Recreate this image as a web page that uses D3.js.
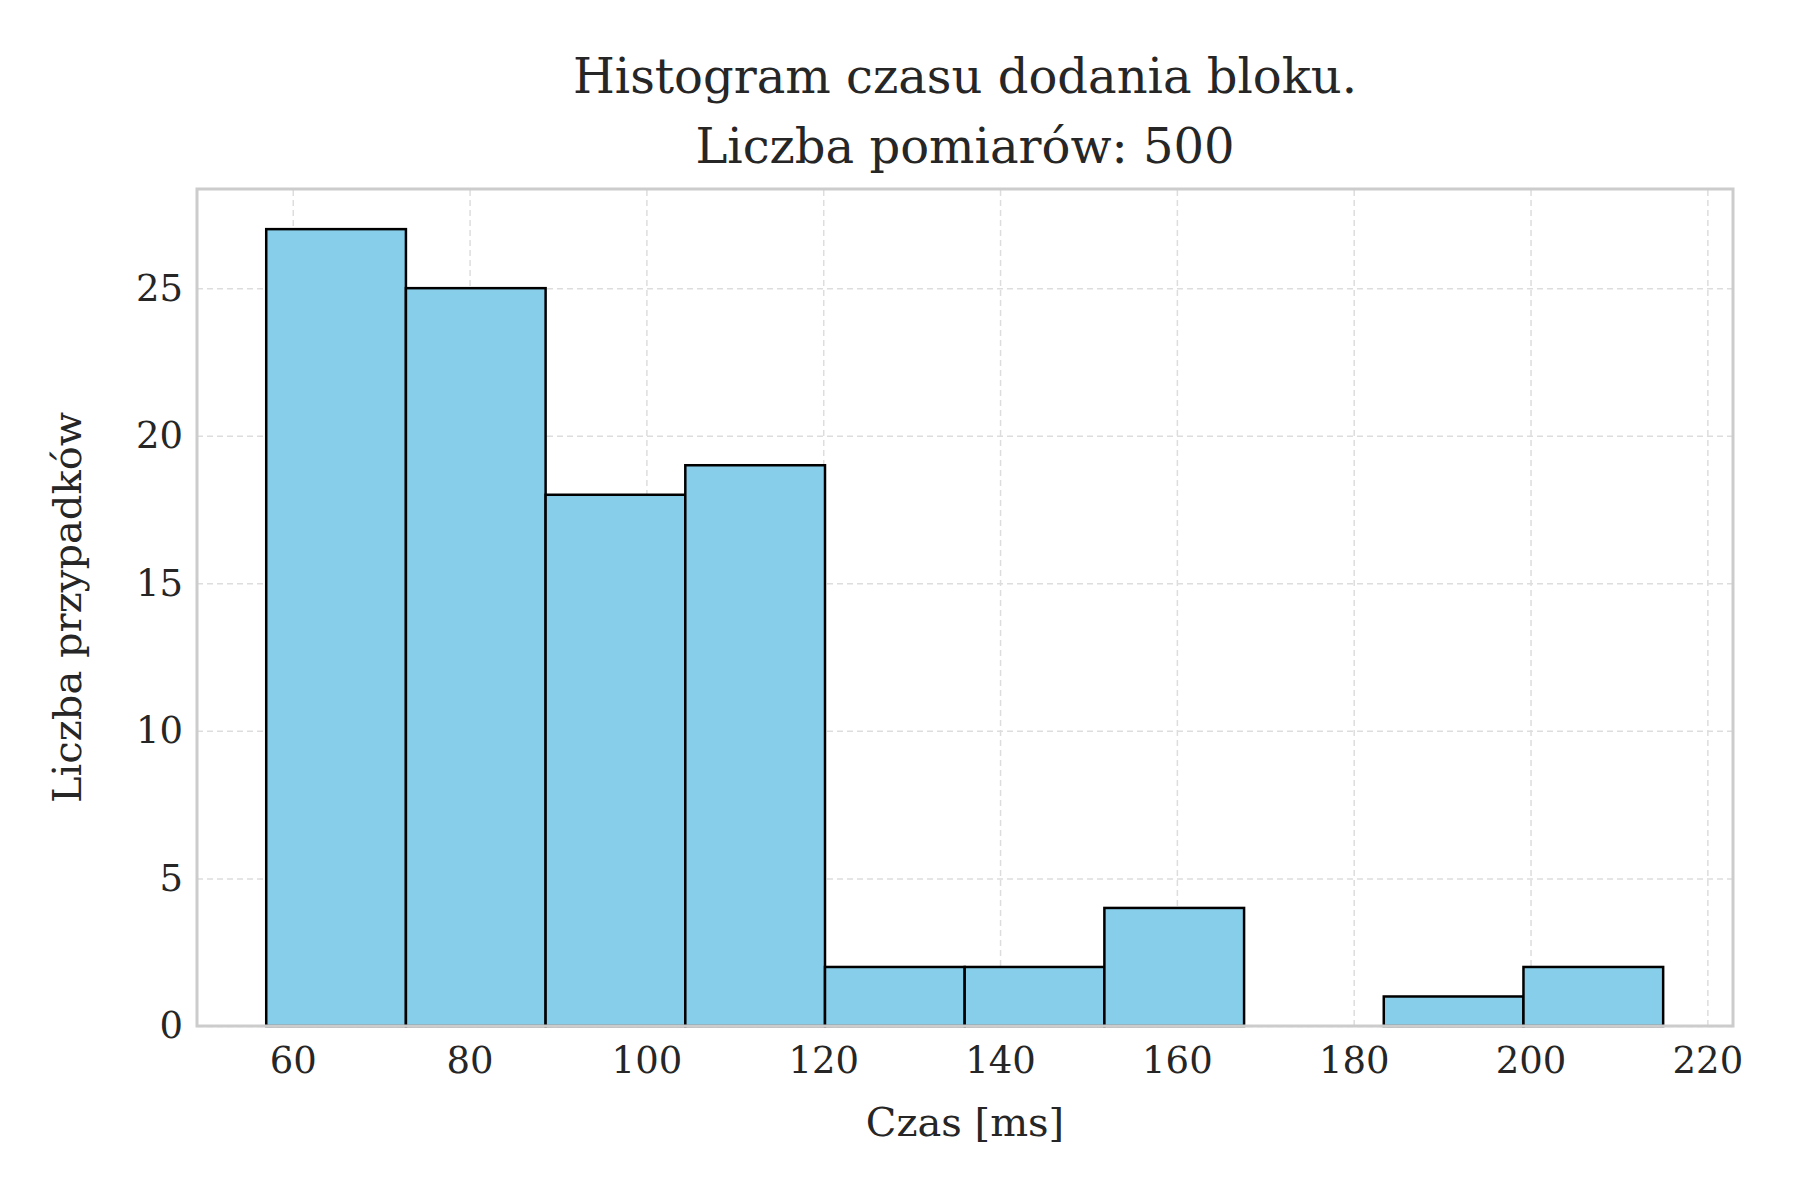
<!DOCTYPE html>
<html lang="en">
<head>
<meta charset="UTF-8">
<title>Histogram</title>
<style>
  body { margin: 0; background: #fff; }
  text { font-family: "DejaVu Serif", serif; fill: #262626; }
  .grid line { stroke: #dddddd; stroke-dasharray: 6,4; stroke-width: 1.5; }
  .grid path { display: none; }
  .axis path, .axis line { display: none; }
</style>
</head>
<body>
<div id="chart"></div>
<script src="https://d3js.org/d3.v7.min.js"></script>
<script>
const binEdges = [57.0, 72.8, 88.6, 104.4, 120.2, 136.0, 151.8, 167.6, 183.4, 199.2, 215.0];
const counts = [27, 25, 18, 19, 2, 2, 4, 0, 1, 2];
const xTicks = [60, 80, 100, 120, 140, 160, 180, 200, 220];
const yTicks = [0, 5, 10, 15, 20, 25];

const W = 1800, H = 1200;
const margin = { top: 189, right: 67, bottom: 174, left: 197 };
const width = W - margin.left - margin.right;
const height = H - margin.top - margin.bottom;

const svg = d3.select("#chart").append("svg").attr("width", W).attr("height", H);
const g = svg.append("g").attr("transform", `translate(${margin.left},${margin.top})`);

const x = d3.scaleLinear().domain([49.17, 222.9]).range([0, width]);
const y = d3.scaleLinear().domain([0, 28.36]).range([height, 0]);

g.append("g").attr("class", "grid")
  .attr("transform", `translate(0,${height})`)
  .call(d3.axisBottom(x).tickValues(xTicks).tickSize(-height).tickFormat(""));
g.append("g").attr("class", "grid")
  .call(d3.axisLeft(y).tickValues(yTicks).tickSize(-width).tickFormat(""));

g.selectAll("rect.bar")
  .data(counts.map((c, i) => ({ c, x0: binEdges[i], x1: binEdges[i + 1] })).filter(d => d.c > 0))
  .enter().append("rect")
  .attr("class", "bar")
  .attr("x", d => x(d.x0))
  .attr("width", d => x(d.x1) - x(d.x0))
  .attr("y", d => y(d.c))
  .attr("height", d => y(0) - y(d.c))
  .attr("fill", "#87ceeb")
  .attr("stroke", "#000")
  .attr("stroke-width", 2.5);

g.append("rect")
  .attr("width", width).attr("height", height)
  .attr("fill", "none").attr("stroke", "#cccccc").attr("stroke-width", 3);

const xAxis = g.append("g").attr("class", "axis")
  .attr("transform", `translate(0,${height})`)
  .call(d3.axisBottom(x).tickValues(xTicks).tickSize(0).tickPadding(14));
xAxis.selectAll("text").attr("font-size", 37).attr("dy", "0.9em");

const yAxis = g.append("g").attr("class", "axis")
  .call(d3.axisLeft(y).tickValues(yTicks).tickSize(0).tickPadding(14));
yAxis.selectAll("text").attr("font-size", 37);

g.append("text")
  .attr("x", width / 2).attr("y", height + 110)
  .attr("text-anchor", "middle").attr("font-size", 40)
  .text("Czas [ms]");

g.append("text")
  .attr("transform", `translate(-116,${height / 2}) rotate(-90)`)
  .attr("text-anchor", "middle").attr("font-size", 40)
  .text("Liczba przypadków");

svg.append("text")
  .attr("x", margin.left + width / 2).attr("y", 93)
  .attr("text-anchor", "middle").attr("font-size", 48)
  .text("Histogram czasu dodania bloku.");
svg.append("text")
  .attr("x", margin.left + width / 2).attr("y", 163)
  .attr("text-anchor", "middle").attr("font-size", 48)
  .text("Liczba pomiarów: 500");
</script>
</body>
</html>
